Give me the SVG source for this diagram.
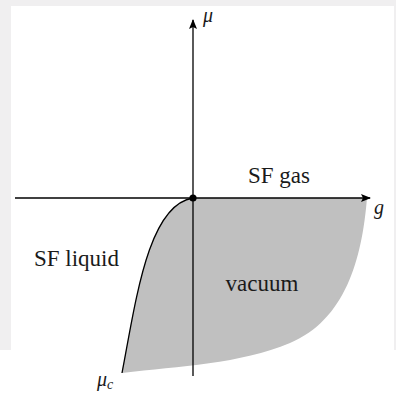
<svg xmlns="http://www.w3.org/2000/svg" width="396" height="395" viewBox="0 0 396 395">
<style>
.lbl{font-family:"Liberation Serif",serif;font-size:23px;fill:#1a1a1a;text-anchor:middle}
.mth{font-family:"Liberation Serif",serif;font-style:italic;fill:#1a1a1a}
.ax{stroke:#000;stroke-width:1.3;fill:none}
</style>
<defs>
<marker id="arr" viewBox="0 0 10 10" refX="9" refY="5" markerWidth="10" markerHeight="10" markerUnits="userSpaceOnUse" orient="auto">
<path d="M0,1 L10,5 L0,9 L2,5 Z" fill="#000"/>
</marker>
</defs>
<rect x="0" y="0" width="396" height="395" fill="#f0eff0"/>
<rect x="11" y="6" width="383" height="344" fill="#fff"/>
<rect x="0" y="350" width="396" height="45" fill="#fff"/>
<g id="vacuum-region">
<path d="M193,198 L367,198 C362,260 345,320 290,343 C240,364 180,366 122,373 C136,300 148,205 193,198 Z" fill="#c0c0c0"/>
</g>
<g id="connectors">
<path class="ax" d="M122,373 C136,300 148,205 193,198"/>
<line class="ax" x1="15" y1="198" x2="370" y2="198" marker-end="url(#arr)"/>
<line class="ax" x1="193" y1="376" x2="193" y2="20" marker-end="url(#arr)"/>
<circle cx="193" cy="198" r="3.6" fill="#000"/>
</g>
<g id="labels">
<text class="mth" x="203" y="22" font-size="20">μ</text>
<text class="mth" x="374" y="214" font-size="20">g</text>
<text class="lbl" x="279" y="183">SF gas</text>
<text class="lbl" x="76.5" y="266">SF liquid</text>
<text class="lbl" x="262" y="291">vacuum</text>
<text class="mth" x="97" y="386" font-size="20">μ<tspan font-size="14" dy="3">c</tspan></text>
</g>
</svg>
